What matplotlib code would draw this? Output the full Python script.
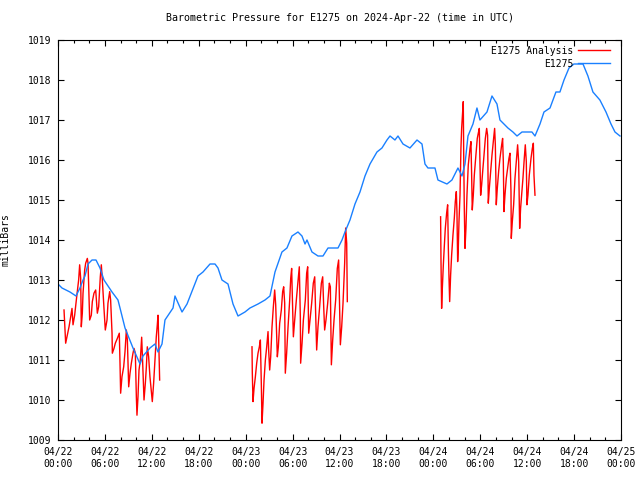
import matplotlib
matplotlib.use("Agg")
import matplotlib.pyplot as plt
import matplotlib.dates as mdates
import pandas as pd

# ---------------------------------------------------------
# data: hours since 2024-04-22 00:00 UTC, pressure in mb
# ---------------------------------------------------------
start = pd.Timestamp("2024-04-22 00:00")

obs_hours = [0.0, 0.51, 1.53, 2.30, 2.81, 3.20, 3.45, 3.84, 4.35, 4.86, 5.37, 5.88,
             6.91, 7.67, 7.93, 8.57, 9.59, 10.49, 10.87, 11.76, 12.40, 12.79, 13.30,
             13.68, 14.71, 14.96, 15.86, 16.50, 17.90, 18.54, 19.44, 20.08, 20.46,
             20.97, 21.74, 22.38, 23.02, 23.91, 24.55, 25.58, 26.47, 27.11, 27.75,
             28.64, 29.28, 29.92, 30.69, 31.20, 31.59, 31.84, 32.48, 33.25, 33.89,
             34.53, 35.81, 36.32, 36.70, 37.34, 37.98, 38.62, 39.26, 39.90, 40.79,
             41.43, 42.07, 42.46, 43.09, 43.48, 44.12, 45.01, 45.91, 46.55, 46.93,
             47.31, 48.21, 48.59, 49.74, 50.38, 51.15, 51.66, 52.05, 52.43, 53.07,
             53.58, 53.96, 54.86, 55.50, 56.14, 56.52, 57.54, 58.18, 58.70, 59.34,
             60.61, 61.00, 61.64, 62.15, 62.92, 63.68, 64.19, 64.71, 65.35, 65.98,
             67.14, 67.77, 68.41, 69.30, 70.08, 70.72, 71.23, 71.87]
obs_mb = [1012.9, 1012.8, 1012.7, 1012.6, 1012.8, 1013.0, 1013.1, 1013.4, 1013.5, 1013.5,
          1013.3, 1013.0, 1012.7, 1012.5, 1012.3, 1011.8, 1011.3, 1010.9, 1011.1, 1011.3,
          1011.4, 1011.2, 1011.4, 1012.0, 1012.3, 1012.6, 1012.2, 1012.4, 1013.1, 1013.2,
          1013.4, 1013.4, 1013.3, 1013.0, 1012.9, 1012.4, 1012.1, 1012.2, 1012.3, 1012.4,
          1012.5, 1012.6, 1013.2, 1013.7, 1013.8, 1014.1, 1014.2, 1014.1, 1013.9, 1014.0,
          1013.7, 1013.6, 1013.6, 1013.8, 1013.8, 1014.0, 1014.2, 1014.5, 1014.9, 1015.2,
          1015.6, 1015.9, 1016.2, 1016.3, 1016.5, 1016.6, 1016.5, 1016.6, 1016.4, 1016.3,
          1016.5, 1016.4, 1015.9, 1015.8, 1015.8, 1015.5, 1015.4, 1015.5, 1015.8, 1015.6,
          1015.9, 1016.6, 1016.9, 1017.3, 1017.0, 1017.2, 1017.6, 1017.4, 1017.0, 1016.8,
          1016.7, 1016.6, 1016.7, 1016.7, 1016.6, 1016.9, 1017.2, 1017.3, 1017.7, 1017.7,
          1018.0, 1018.3, 1018.4, 1018.4, 1018.1, 1017.7, 1017.5, 1017.2, 1016.9, 1016.7,
          1016.6]

# analysis runs (three separate blocks)
ana1_hours = [0.77, 0.98, 1.19, 1.41, 1.62, 1.79, 1.92, 2.13, 2.26, 2.39, 2.64, 2.77,
              2.90, 2.98, 3.11, 3.20, 3.41, 3.54, 3.75, 3.84, 4.05, 4.26, 4.39, 4.60,
              4.82, 5.03, 5.20, 5.41, 5.54, 5.67, 5.88, 6.05, 6.27, 6.39, 6.61, 6.73,
              6.91, 6.95, 7.16, 7.33, 7.59, 7.84, 7.93, 8.01, 8.18, 8.40, 8.57, 8.74,
              8.87, 9.04, 9.21, 9.38, 9.59, 9.72, 9.89, 10.02, 10.10, 10.23, 10.36,
              10.53, 10.70, 10.83, 11.00, 11.17, 11.30, 11.42, 11.59, 11.76, 12.06,
              12.23, 12.40, 12.57, 12.70, 12.79, 12.87, 13.00]
ana1_mb = [1012.25, 1011.42, 1011.62, 1011.83, 1012.08, 1012.29, 1011.88, 1012.12, 1012.35,
           1012.58, 1013.00, 1013.38, 1013.04, 1011.83, 1012.17, 1012.67, 1013.25, 1013.42,
           1013.54, 1013.42, 1012.00, 1012.12, 1012.46, 1012.67, 1012.75, 1012.17, 1012.33,
           1013.08, 1013.38, 1013.00, 1012.29, 1011.75, 1012.00, 1012.42, 1012.71, 1012.50,
           1011.67, 1011.17, 1011.29, 1011.42, 1011.54, 1011.67, 1010.92, 1010.17, 1010.58,
           1010.83, 1011.21, 1011.75, 1011.50, 1010.33, 1010.67, 1010.92, 1011.17, 1011.29,
           1011.17, 1010.08, 1009.62, 1010.08, 1010.75, 1011.00, 1011.57, 1010.92, 1010.00,
           1010.42, 1010.83, 1011.33, 1011.08, 1010.58, 1009.96, 1010.42, 1011.00, 1011.58,
           1011.88, 1012.12, 1011.58, 1010.50]

ana2_hours = [24.81, 24.85, 24.94, 25.07, 25.24, 25.41, 25.58, 25.75, 25.88, 26.01, 26.09,
              26.22, 26.35, 26.52, 26.69, 26.86, 26.94, 27.07, 27.20, 27.37, 27.54, 27.71,
              27.84, 27.97, 28.05, 28.18, 28.35, 28.56, 28.73, 28.86, 28.99, 29.07, 29.24,
              29.42, 29.63, 29.76, 29.88, 29.97, 30.10, 30.27, 30.48, 30.69, 30.86, 30.99,
              31.03, 31.21, 31.38, 31.63, 31.80, 31.93, 32.06, 32.23, 32.44, 32.65, 32.83,
              32.95, 33.08, 33.25, 33.46, 33.68, 33.85, 33.98, 34.10, 34.27, 34.49, 34.70,
              34.83, 34.96, 35.13, 35.30, 35.51, 35.72, 35.89, 36.02, 36.11, 36.28, 36.45,
              36.66, 36.79, 36.92, 37.00]
ana2_mb = [1011.33, 1010.67, 1009.96, 1010.29, 1010.58, 1010.92, 1011.17, 1011.33, 1011.50,
           1010.33, 1009.42, 1009.92, 1010.50, 1011.00, 1011.33, 1011.71, 1011.25, 1010.75,
           1011.08, 1011.83, 1012.33, 1012.75, 1012.38, 1011.58, 1011.08, 1011.33, 1011.92,
           1012.25, 1012.71, 1012.83, 1012.42, 1010.67, 1011.17, 1011.83, 1012.50, 1013.04,
           1013.29, 1012.58, 1011.58, 1012.00, 1012.50, 1012.96, 1013.33, 1012.08, 1010.92,
           1011.42, 1012.00, 1012.50, 1013.17, 1013.33, 1011.67, 1012.00, 1012.42, 1012.92,
           1013.08, 1012.17, 1011.25, 1011.83, 1012.33, 1012.92, 1013.08, 1012.33, 1011.75,
           1012.00, 1012.42, 1012.92, 1012.83, 1010.88, 1011.50, 1012.00, 1012.50, 1013.29,
           1013.50, 1012.25, 1011.38, 1011.83, 1012.42, 1013.42, 1014.30, 1013.92, 1012.46]

ana3_hours = [48.93, 48.98, 49.06, 49.15, 49.28, 49.40, 49.53, 49.70, 49.83, 49.92, 50.00,
              50.09, 50.21, 50.34, 50.51, 50.68, 50.81, 50.94, 51.02, 51.11, 51.19, 51.28,
              51.41, 51.53, 51.62, 51.71, 51.83, 51.88, 51.96, 52.05, 52.17, 52.30, 52.47,
              52.69, 52.81, 52.90, 52.98, 53.11, 53.24, 53.41, 53.62, 53.75, 53.88, 53.96,
              54.05, 54.18, 54.31, 54.48, 54.65, 54.82, 54.94, 55.03, 55.16, 55.33, 55.50,
              55.71, 55.84, 55.93, 56.05, 56.18, 56.35, 56.52, 56.74, 56.86, 56.95, 57.03,
              57.16, 57.33, 57.50, 57.67, 57.80, 57.93, 57.97, 58.10, 58.27, 58.44, 58.61,
              58.78, 58.91, 59.04, 59.16, 59.29, 59.46, 59.63, 59.76, 59.89, 59.97, 60.10,
              60.27, 60.49, 60.66, 60.79, 60.87, 61.00]
ana3_mb = [1014.58, 1013.46, 1012.29, 1012.79, 1013.38, 1013.83, 1014.29, 1014.67, 1014.88,
           1013.79, 1013.08, 1012.46, 1013.12, 1013.62, 1014.12, 1014.54, 1014.96, 1015.21,
           1014.71, 1013.46, 1013.79, 1014.46, 1015.12, 1016.29, 1016.79, 1017.08, 1017.46,
           1016.21, 1014.79, 1013.79, 1014.29, 1015.12, 1015.88, 1016.29, 1016.46, 1015.62,
           1014.75, 1015.12, 1015.62, 1016.04, 1016.54, 1016.67, 1016.79, 1015.96, 1015.12,
           1015.38, 1015.71, 1016.12, 1016.54, 1016.79, 1016.62, 1014.92, 1015.29, 1015.71,
           1016.12, 1016.54, 1016.79, 1016.38, 1014.88, 1015.29, 1015.71, 1016.04, 1016.38,
           1016.54, 1015.96, 1014.71, 1015.12, 1015.54, 1015.79, 1016.04, 1016.17, 1015.21,
           1014.04, 1014.46, 1014.88, 1015.54, 1015.96, 1016.38, 1015.96, 1014.29, 1014.79,
           1015.12, 1015.54, 1016.04, 1016.38, 1015.96, 1014.88, 1015.12, 1015.62, 1016.04,
           1016.29, 1016.42, 1015.62, 1015.12]


def to_time(hours):
    return start + pd.to_timedelta(hours, unit="h")


plt.rcParams["font.family"] = ["DejaVu Sans Mono"]
plt.rcParams["font.size"] = 7

fig = plt.figure(figsize=(6.4, 4.8), dpi=100)
ax = fig.add_axes([58 / 640, 40 / 480, 563 / 640, 400 / 480])

red = "#ff0000"
blue = "#1a80ff"

first = True
for hrs, vals in [(ana1_hours, ana1_mb), (ana2_hours, ana2_mb), (ana3_hours, ana3_mb)]:
    ax.plot(to_time(hrs), vals, color=red, linewidth=1.0,
            label="E1275 Analysis" if first else None)
    first = False
ax.plot(to_time(obs_hours), obs_mb, color=blue, linewidth=1.0, label="E1275")

ax.set_xlim(to_time([0])[0], to_time([72])[0])
ax.set_ylim(1009, 1019)
ax.set_yticks(range(1009, 1020))

ax.xaxis.set_major_locator(mdates.HourLocator(byhour=range(0, 24, 6)))
ax.xaxis.set_minor_locator(mdates.HourLocator(byhour=range(0, 24, 2)))
ax.xaxis.set_major_formatter(mdates.DateFormatter("%m/%d\n%H:%M"))

ax.tick_params(axis="both", which="major", direction="in", length=4, width=0.8,
               top=True, right=True, labelsize=7, pad=5)
ax.tick_params(axis="x", which="minor", direction="in", length=2.5, width=0.8, top=True)
for s in ax.spines.values():
    s.set_linewidth(0.8)

ax.set_title("Barometric Pressure for E1275 on 2024-Apr-22 (time in UTC)", fontsize=7.2, pad=14)
ax.set_ylabel("milliBars", fontsize=7)
ax.yaxis.set_label_coords(-0.085, 0.5)

ax.legend(loc="upper right", bbox_to_anchor=(0.99, 1.0), frameon=False, markerfirst=False,
          fontsize=7, handlelength=3.2, handletextpad=0.5, borderaxespad=0.2,
          labelspacing=0.3)

fig.savefig("out.png", dpi=100)
